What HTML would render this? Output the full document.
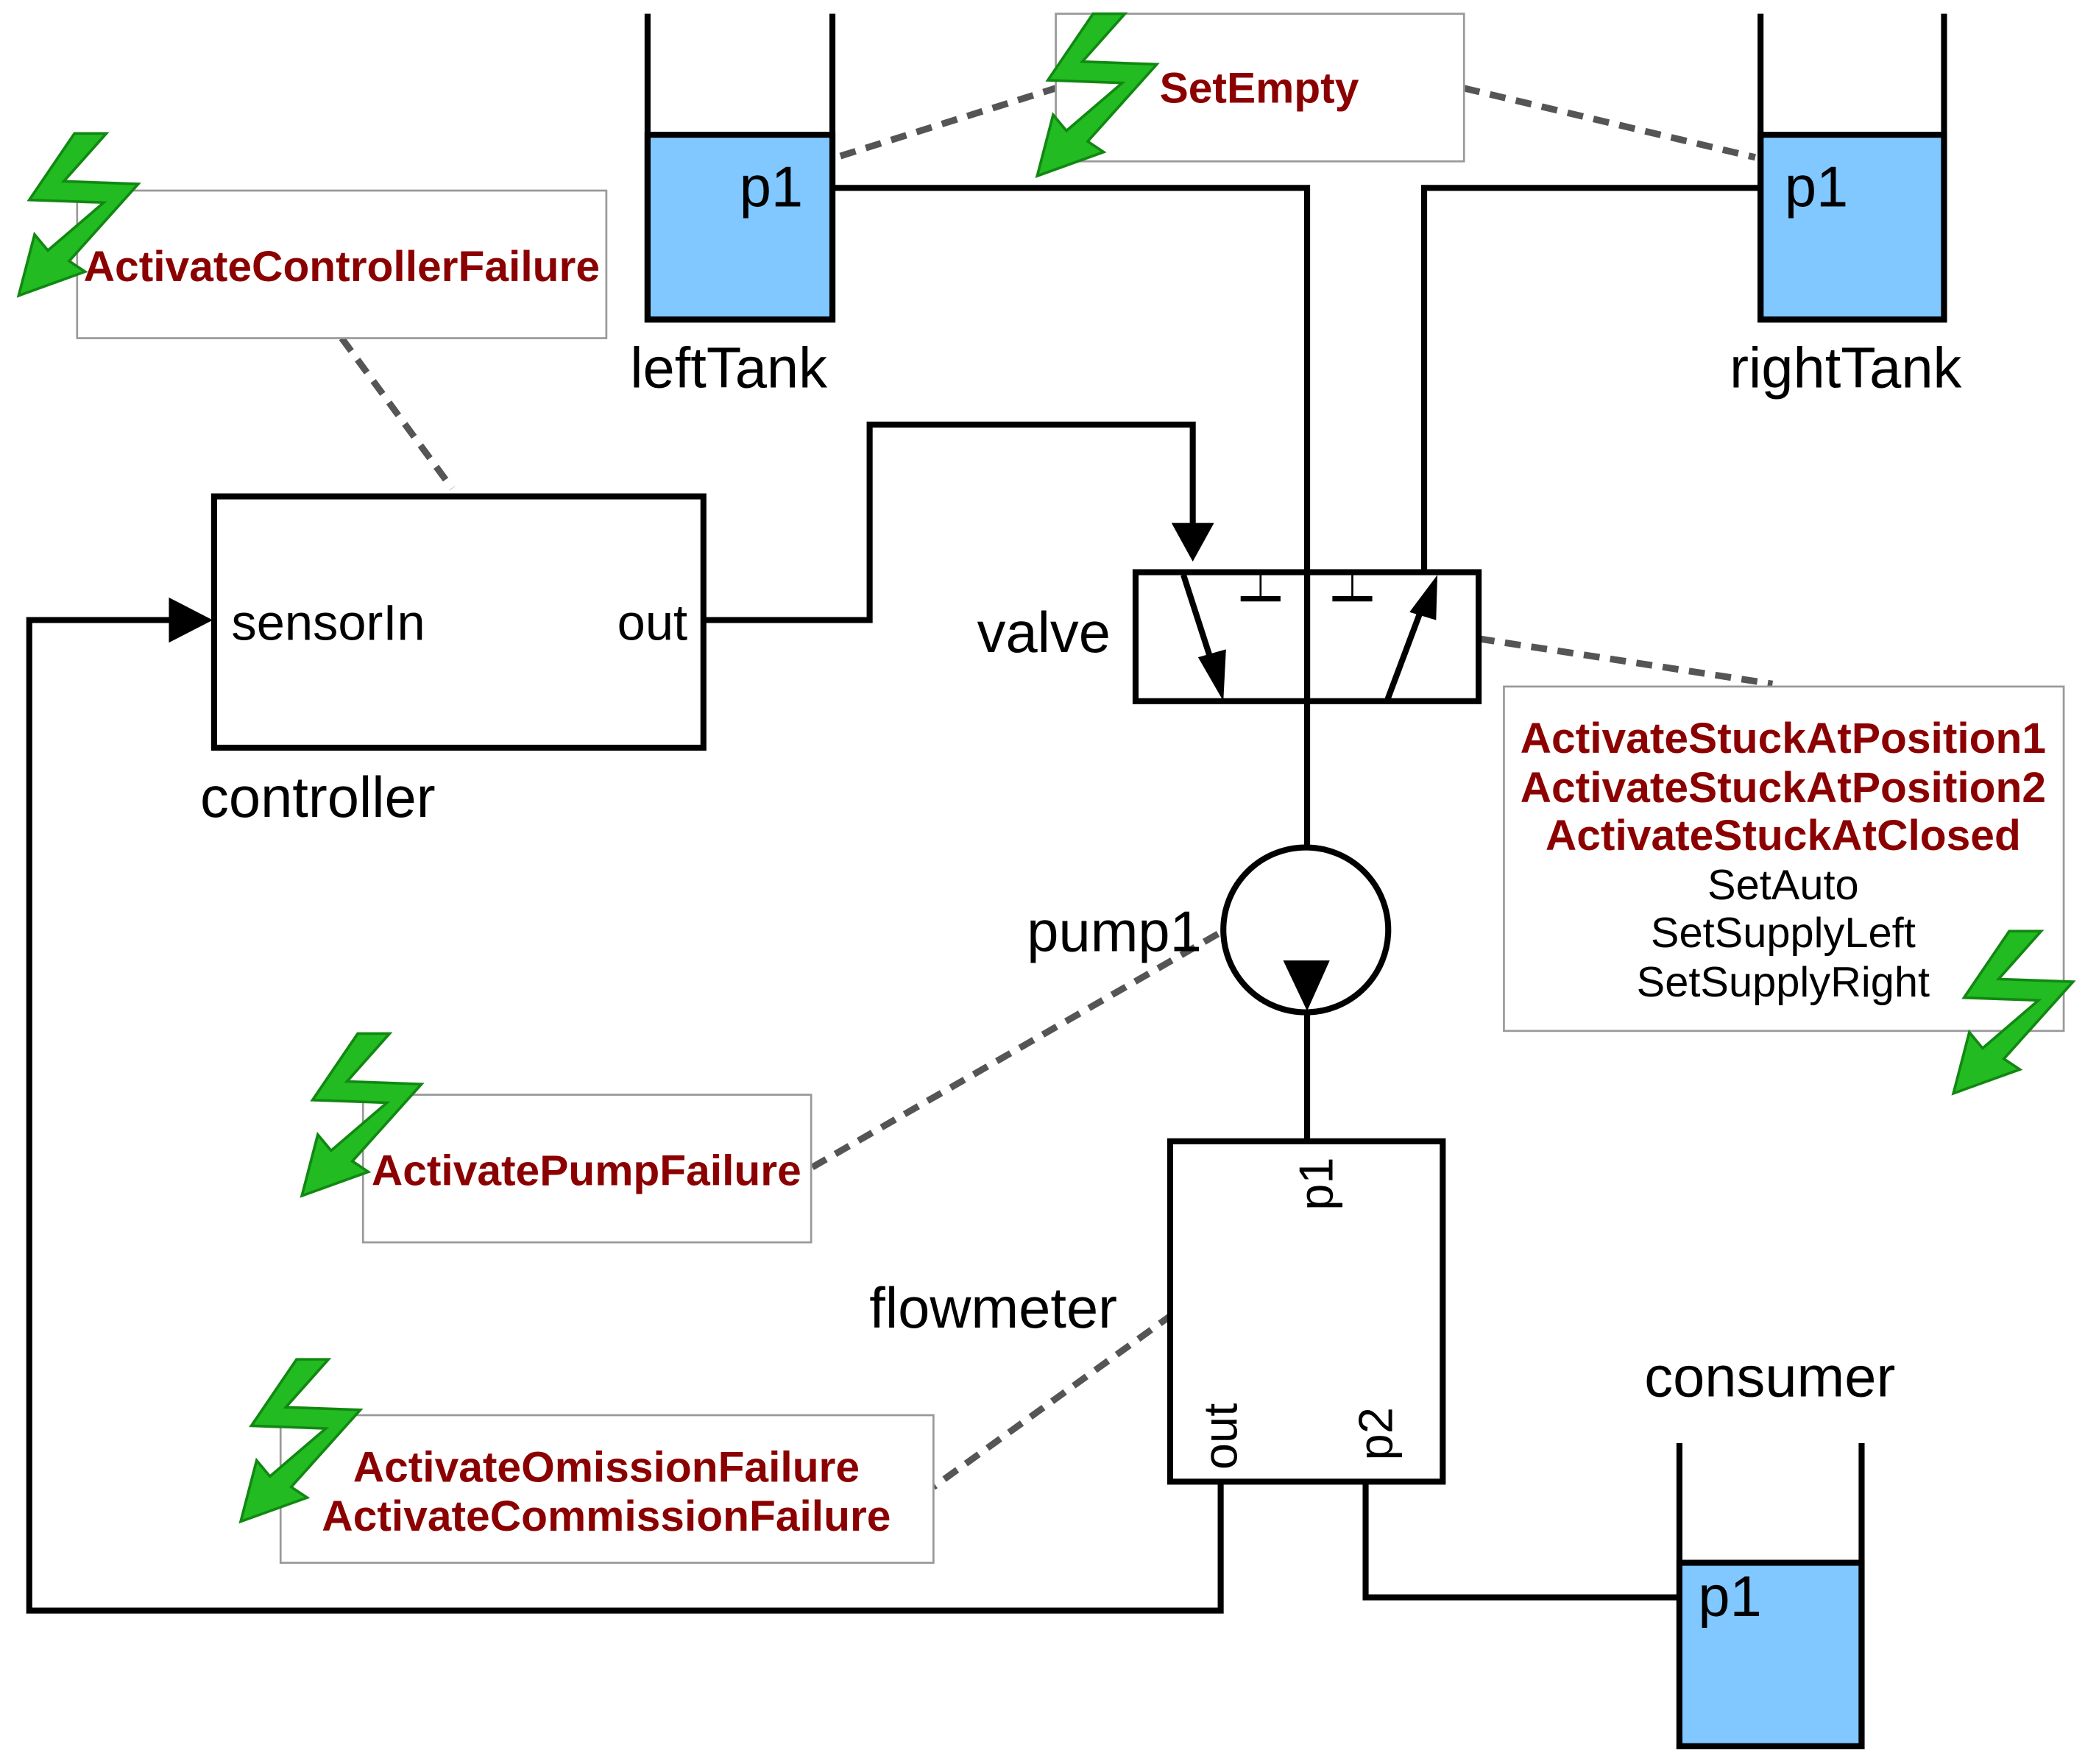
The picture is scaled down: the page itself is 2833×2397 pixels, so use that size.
<!DOCTYPE html>
<html><head><meta charset="utf-8"><style>
html,body{margin:0;padding:0;background:#fff;}
svg{display:block;}
text{font-family:"Liberation Sans",sans-serif;}
.lbl{font-size:43px;fill:#000;}
.red{font-size:32.5px;fill:#8b0000;font-weight:bold;}
.blk{font-size:32px;fill:#000;}
.dash{stroke:#555;stroke-width:5;stroke-dasharray:12 8;fill:none;}
.ln{stroke:#000;stroke-width:4.5;fill:none;}
.box{fill:#fff;stroke:#999;stroke-width:1.5;}
</style></head><body>
<svg width="2833" height="2397" viewBox="0 0 1568 1326" xmlns="http://www.w3.org/2000/svg">
<defs>
<g id="bolt">
<polygon points="42,0 66,0 34,36 90,38 38,96 50,104 0,122 12,76 22,88 64,52 8,50" fill="#22bb22" stroke="#118811" stroke-width="2" stroke-linejoin="miter"/>
</g>
</defs>

<line class="dash" x1="632" y1="117" x2="794" y2="66"/>
<line class="dash" x1="1101" y1="66" x2="1320" y2="118"/>
<line class="dash" x1="257" y1="254" x2="340" y2="367"/>
<line class="dash" x1="1112" y1="480" x2="1333" y2="514"/>
<line class="dash" x1="916" y1="702" x2="610" y2="878"/>
<line class="dash" x1="882" y1="988" x2="702" y2="1118"/>

<polyline class="ln" points="626,141 983,141 983,640"/>
<polyline class="ln" points="1324,141 1071,141 1071,430"/>
<polyline class="ln" points="529,466 654,466 654,319 897,319 897,395"/>
<polygon points="881,393 913,393 897,422" fill="#000"/>
<polyline class="ln" points="918,1115 918,1211 22,1211 22,466 130,466"/>
<polygon points="127,449 160,466 127,483" fill="#000"/>
<line class="ln" x1="983" y1="760" x2="983" y2="858"/>
<polyline class="ln" points="1027,1114 1027,1201 1263,1201"/>

<rect x="487" y="101" width="139" height="139" fill="#80c8ff" stroke="#000" stroke-width="4.5"/>
<polyline class="ln" points="487,10 487,240 626,240 626,10"/>
<text class="lbl" x="580" y="155" text-anchor="middle">p1</text>
<text class="lbl" x="548" y="291" text-anchor="middle">leftTank</text>

<rect x="1324" y="101" width="138" height="139" fill="#80c8ff" stroke="#000" stroke-width="4.5"/>
<polyline class="ln" points="1324,10 1324,240 1462,240 1462,10"/>
<text class="lbl" x="1366" y="155" text-anchor="middle">p1</text>
<text class="lbl" x="1388" y="291" text-anchor="middle">rightTank</text>

<rect x="1263" y="1175" width="137" height="138" fill="#80c8ff" stroke="#000" stroke-width="4.5"/>
<polyline class="ln" points="1263,1085 1263,1313 1400,1313 1400,1085"/>
<text class="lbl" x="1301" y="1215" text-anchor="middle">p1</text>
<text class="lbl" x="1331" y="1050" text-anchor="middle">consumer</text>

<rect x="161" y="373" width="368" height="189" fill="#fff" stroke="#000" stroke-width="4.5"/>
<text class="blk" style="font-size:38px" x="174" y="481">sensorIn</text>
<text class="blk" style="font-size:38px" x="517" y="481" text-anchor="end">out</text>
<text class="lbl" x="239" y="614" text-anchor="middle">controller</text>

<rect x="854" y="430" width="258" height="97" fill="none" stroke="#000" stroke-width="4.5"/>
<line class="ln" x1="983" y1="430" x2="983" y2="527"/>
<line class="ln" x1="890" y1="432" x2="912" y2="500"/>
<polygon points="901,494 922,488 920,527" fill="#000"/>
<line class="ln" x1="1043" y1="527" x2="1070" y2="455"/>
<polygon points="1060,460 1080,466 1081,432" fill="#000"/>
<line x1="948" y1="432" x2="948" y2="450" stroke="#000" stroke-width="1.5"/>
<line x1="933" y1="450" x2="963" y2="450" stroke="#000" stroke-width="4"/>
<line x1="1017" y1="432" x2="1017" y2="450" stroke="#000" stroke-width="1.5"/>
<line x1="1002" y1="450" x2="1032" y2="450" stroke="#000" stroke-width="4"/>
<text class="lbl" x="785" y="490" text-anchor="middle">valve</text>

<circle cx="982" cy="699" r="62" fill="#fff" stroke="#000" stroke-width="4.5"/>
<polygon points="965,722 1000,722 983,760" fill="#000"/>
<text class="lbl" x="838" y="715" text-anchor="middle">pump1</text>

<rect x="880" y="858" width="205" height="256" fill="#fff" stroke="#000" stroke-width="4.5"/>
<text class="blk" style="font-size:36px" transform="translate(1002,890) rotate(-90)" text-anchor="middle">p1</text>
<text class="blk" style="font-size:36px" transform="translate(930,1080) rotate(-90)" text-anchor="middle">out</text>
<text class="blk" style="font-size:36px" transform="translate(1047,1078) rotate(-90)" text-anchor="middle">p2</text>
<text class="lbl" x="747" y="998" text-anchor="middle">flowmeter</text>

<rect class="box" x="794" y="10" width="307" height="111"/>
<text class="red" x="947" y="77" text-anchor="middle">SetEmpty</text>

<rect class="box" x="58" y="143" width="398" height="111"/>
<text class="red" x="257" y="211" text-anchor="middle">ActivateControllerFailure</text>

<rect class="box" x="1131" y="516" width="421" height="259"/>
<text class="red" x="1341" y="566" text-anchor="middle">ActivateStuckAtPosition1</text>
<text class="red" x="1341" y="603" text-anchor="middle">ActivateStuckAtPosition2</text>
<text class="red" x="1341" y="639" text-anchor="middle">ActivateStuckAtClosed</text>
<text class="blk" x="1341" y="676" text-anchor="middle">SetAuto</text>
<text class="blk" x="1341" y="712" text-anchor="middle">SetSupplyLeft</text>
<text class="blk" x="1341" y="749" text-anchor="middle">SetSupplyRight</text>

<rect class="box" x="273" y="823" width="337" height="111"/>
<text class="red" x="441" y="891" text-anchor="middle">ActivatePumpFailure</text>

<rect class="box" x="211" y="1064" width="491" height="111"/>
<text class="red" x="456" y="1114" text-anchor="middle">ActivateOmissionFailure</text>
<text class="red" x="456" y="1151" text-anchor="middle">ActivateCommissionFailure</text>

<use href="#bolt" transform="translate(780,10)"/>
<use href="#bolt" transform="translate(14,100)"/>
<use href="#bolt" transform="translate(227,777)"/>
<use href="#bolt" transform="translate(181,1022)"/>
<use href="#bolt" transform="translate(1469,700)"/>
</svg>
</body></html>
